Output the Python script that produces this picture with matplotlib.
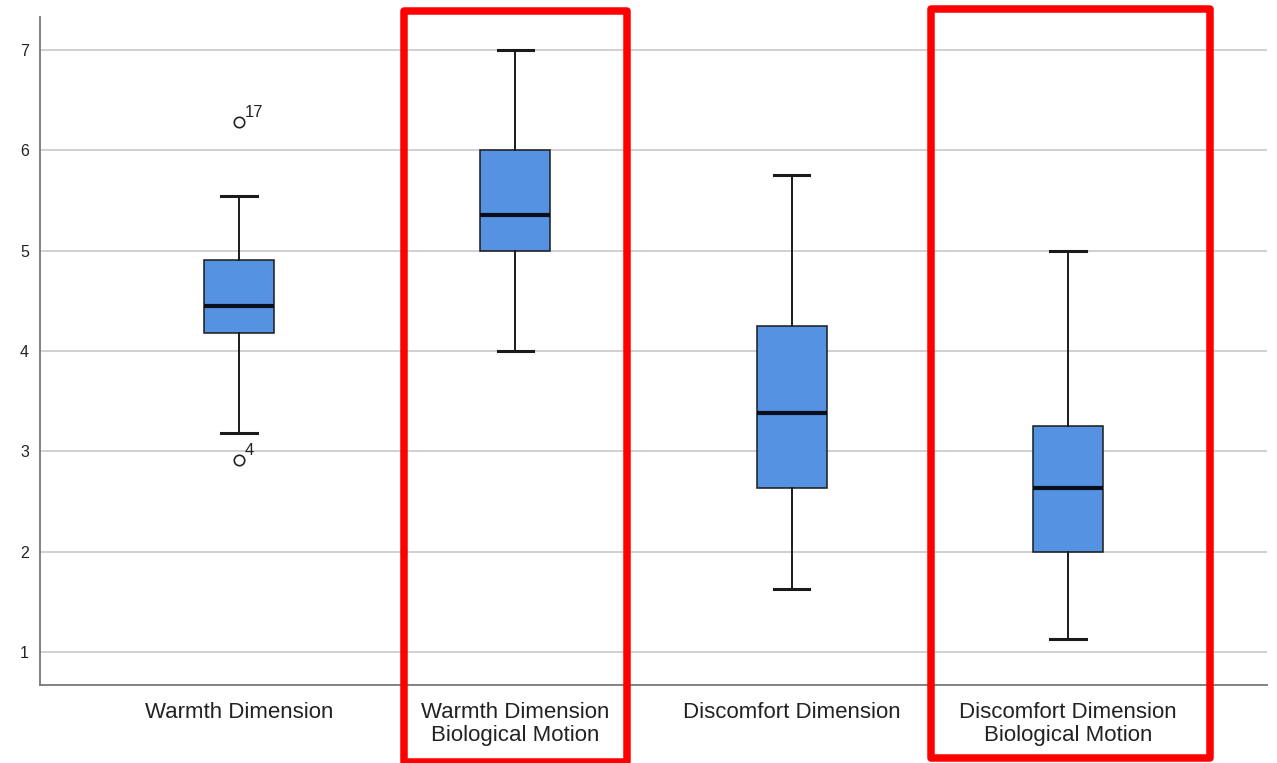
import matplotlib.pyplot as plt
from matplotlib.patches import Rectangle

plt.rcParams.update({
    "font.family": ["Liberation Sans", "DejaVu Sans"],
})

# Box statistics
labels = ["Warmth Dimension", "Warmth Dimension\nBiological Motion",
          "Discomfort Dimension", "Discomfort Dimension\nBiological Motion"]
whislo = [3.18, 4.00, 1.63, 1.13]
q1 = [4.18, 5.00, 2.63, 2.00]
med = [4.45, 5.36, 3.38, 2.63]
q3 = [4.91, 6.00, 4.25, 3.25]
whishi = [5.55, 7.00, 5.75, 5.00]
outlier_vals = [[6.28, 2.91], [], [], []]
outlier_ids = [["17", "4"], [], [], []]

stats = []
for i in range(len(labels)):
    stats.append(dict(label=labels[i], whislo=whislo[i], q1=q1[i], med=med[i],
                      q3=q3[i], whishi=whishi[i], fliers=outlier_vals[i]))

fig = plt.figure(figsize=(12.77, 7.63), dpi=100)
ax = fig.add_axes([40/1277, 78/763, 1227/1277, 668/763])

pos = list(range(len(labels)))
ax.bxp(stats, positions=pos, widths=0.254, patch_artist=True,
       boxprops=dict(facecolor="#5592e2", edgecolor="#1a1a1a", linewidth=1.1),
       medianprops=dict(color="#0a0f1e", linewidth=3),
       whiskerprops=dict(color="#1a1a1a", linewidth=1.4),
       capprops=dict(color="#1a1a1a", linewidth=2.2),
       capwidths=0.127,
       flierprops=dict(marker="o", markerfacecolor="white", markeredgecolor="#222222",
                       markersize=7.5, markeredgewidth=1.2),
       zorder=3)

for i, (vals, ids) in enumerate(zip(outlier_vals, outlier_ids)):
    for v, t in zip(vals, ids):
        ax.annotate(t, (pos[i], v), xytext=(4, 4), textcoords="offset points",
                    fontsize=12, color="#222222", zorder=4)

ax.set_xlim(-0.72, 3.72)
ax.set_ylim(0.671, 7.33)
ax.set_yticks([1, 2, 3, 4, 5, 6, 7])
ax.set_xticks(pos)
ax.set_xticklabels(labels, fontsize=16, color="#222222", linespacing=1.15)
ax.tick_params(axis="y", length=0, pad=8, labelsize=11.5, labelcolor="#222222")
ax.tick_params(axis="x", length=0, pad=12)
ax.yaxis.grid(True, color="#c8c8c8", linewidth=1.2, zorder=0)
ax.set_axisbelow(True)
for s in ["top", "right"]:
    ax.spines[s].set_visible(False)
for s in ["left", "bottom"]:
    ax.spines[s].set_color("#777777")
    ax.spines[s].set_linewidth(1.3)

# red highlight frames, in pixel coordinates of the figure
frames = [(403.5, 11, 627, 762), (930.5, 8.5, 1210, 758)]
for x0, y0, x1, y1 in frames:
    fig.add_artist(Rectangle((x0/1277, 1 - y1/763), (x1 - x0)/1277, (y1 - y0)/763,
                             transform=fig.transFigure, fill=False,
                             edgecolor="#ff0000", linewidth=5.4, joinstyle="round",
                             zorder=10))

fig.savefig("out.png", dpi=100)
